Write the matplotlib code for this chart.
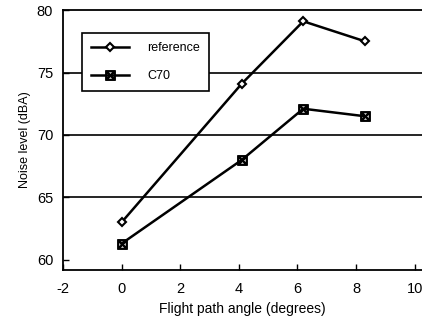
import matplotlib.pyplot as plt

plt.rcParams['font.family'] = ['Liberation Sans', 'DejaVu Sans']
plt.rcParams['axes.unicode_minus'] = False

angle_ref = [0, 4.1, 6.2, 8.3]
noise_ref = [63.0, 74.1, 79.1, 77.5]
angle_c70 = [0, 4.1, 6.2, 8.3]
noise_c70 = [61.3, 68.0, 72.1, 71.5]

fig = plt.figure(figsize=(4.22, 3.24), dpi=100)
ax = fig.add_axes([0.149, 0.167, 0.851, 0.802])

for y in [65, 70, 75]:
    ax.axhline(y, color='black', lw=1.2, zorder=1)

ax.plot(angle_ref, noise_ref, color='black', lw=1.8, marker='D', ms=4.5,
        mfc='white', mec='black', mew=1.5, label='reference', zorder=3)
ax.plot(angle_c70, noise_c70, color='black', lw=1.8, marker=r'$\boxtimes$', ms=7,
        mec='black', mew=0.8, label='C70', zorder=3)

ax.set_xlim(-2, 10.25)
ax.set_ylim(59.2, 80)
ax.set_xticks([-2, 0, 2, 4, 6, 8, 10])
ax.set_yticks([60, 65, 70, 75, 80])
ax.tick_params(direction='in', length=4, labelsize=10.5, width=1)
ax.tick_params(axis='x', pad=9)
ax.tick_params(axis='y', pad=7)
ax.spines['right'].set_visible(False)
for s in ['left', 'bottom', 'top']:
    ax.spines[s].set_linewidth(1.3)

ax.set_xlabel('Flight path angle (degrees)', fontsize=10, labelpad=4)
ax.set_ylabel('Noise level (dBA)', fontsize=9)

leg = ax.legend(loc='upper left', bbox_to_anchor=(0.054, 0.91), fontsize=9,
                handlelength=3.0, handletextpad=1.5, labelspacing=1.3,
                borderpad=0.7, borderaxespad=0, fancybox=False, framealpha=1,
                edgecolor='black')
leg.get_frame().set_linewidth(1.2)

fig.savefig('out.png', dpi=100)
